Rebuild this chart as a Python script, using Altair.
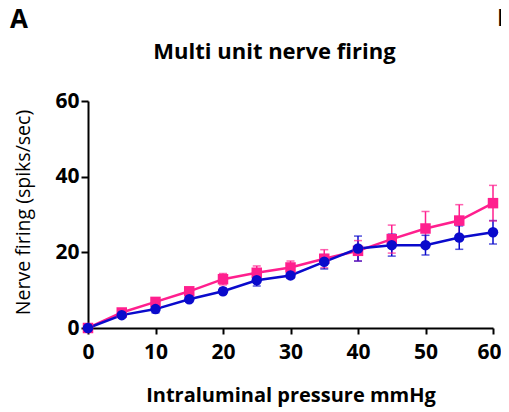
import altair as alt
import pandas as pd

pressure = [0, 5, 10, 15, 20, 25, 30, 35, 40, 45, 50, 55, 60]
pink_mean = [0, 4.1, 6.9, 9.7, 12.9, 14.6, 16.0, 18.3, 20.4, 23.5, 26.3, 28.4, 33.0]
pink_sem = [0, 0.6, 0.8, 0.9, 1.5, 1.8, 1.7, 2.4, 2.7, 3.7, 4.5, 4.2, 4.7]
blue_mean = [0, 3.4, 5.0, 7.6, 9.7, 12.6, 13.9, 17.5, 21.0, 21.9, 21.9, 23.9, 25.3]
blue_sem = [0, 0.5, 1.0, 0.7, 0.8, 1.5, 0.8, 1.9, 3.3, 2.9, 2.6, 3.1, 3.1]
series_names = ["pink", "blue"]
series_colors = ["#FF1F8E", "#0A0ACC"]
series_shapes = ["square", "circle"]
x_ticks = [0, 10, 20, 30, 40, 50, 60]
y_ticks = [0, 20, 40, 60]

rows = []
for name, means, sems in [("pink", pink_mean, pink_sem), ("blue", blue_mean, blue_sem)]:
    for p, m, s in zip(pressure, means, sems):
        rows.append({"pressure": p, "firing": m, "lo": m - s, "hi": m + s, "series": name})
df = pd.DataFrame(rows)

FONT = "Open Sans"

x_enc = alt.X("pressure:Q", scale=alt.Scale(domain=[0, 60], nice=False),
              axis=alt.Axis(values=x_ticks, title="Intraluminal pressure mmHg",
                            titleFontWeight="bold", titleFontSize=20, titleY=73,
                            titleBaseline="alphabetic", labelPadding=7, tickSize=6,
                            labelFlush=False,
                            labelOffset=alt.condition("datum.value == 60", alt.value(-4), alt.value(0))))
y_enc = alt.Y("firing:Q", scale=alt.Scale(domain=[0, 60], nice=False),
              axis=alt.Axis(values=y_ticks, title="Nerve firing (spiks/sec)",
                            titleFontWeight="normal", titleFontSize=19.5, titleX=-55,
                            titleY=111, titleBaseline="bottom", labelPadding=2, tickSize=7,
                            labelFlush=False))
color_enc = alt.Color("series:N", scale=alt.Scale(domain=series_names, range=series_colors), legend=None)

base = alt.Chart(df)

err = base.mark_rule(strokeWidth=1.5).encode(x="pressure:Q", y="lo:Q", y2="hi:Q", color=color_enc)
cap_hi = base.mark_tick(orient="horizontal", size=8, thickness=1.5).encode(x="pressure:Q", y="hi:Q", color=color_enc)
cap_lo = base.mark_tick(orient="horizontal", size=8, thickness=1.5).encode(x="pressure:Q", y="lo:Q", color=color_enc)
lines = base.mark_line(strokeWidth=2.5).encode(x=x_enc, y=y_enc, color=color_enc,
                                               detail="series:N")
points = base.mark_point(filled=True, opacity=1, size=110).encode(
    x="pressure:Q", y="firing:Q", color=color_enc,
    shape=alt.Shape("series:N", scale=alt.Scale(domain=series_names, range=series_shapes), legend=None))

labels_df = pd.DataFrame({"label": ["A", "B"]})
lab_a = alt.Chart(labels_df).transform_filter(alt.datum.label == "A").mark_text(
    font=FONT, fontWeight="bold", fontSize=26, align="left", baseline="alphabetic", color="black"
).encode(text="label:N", x=alt.value(-78), y=alt.value(-73))
lab_b = alt.Chart(labels_df).transform_filter(alt.datum.label == "B").mark_text(
    font=FONT, fontWeight="bold", fontSize=24, align="left", baseline="alphabetic", color="black"
).encode(text="label:N", x=alt.value(409), y=alt.value(-75))

chart = alt.layer(err, cap_hi, cap_lo, lines, points, lab_a, lab_b).properties(
    width=405, height=227,
    title=alt.TitleParams("Multi unit nerve firing", font=FONT, fontWeight="bold", fontSize=22,
                          anchor="middle", frame="group", dx=-16, offset=-74,
                          baseline="alphabetic", color="black"),
    autosize=alt.AutoSizeParams(type="none"),
    padding={"left": 80, "top": 93, "right": 8, "bottom": 82},
).configure_view(stroke=None).configure_axis(
    grid=False, domainColor="black", domainWidth=2, tickColor="black", tickWidth=2,
    labelFont=FONT, labelFontWeight="bold", labelFontSize=21, labelColor="black",
    titleFont=FONT, titleColor="black",
)

chart.save("out.html", embed_options={"renderer": "svg", "actions": False})
